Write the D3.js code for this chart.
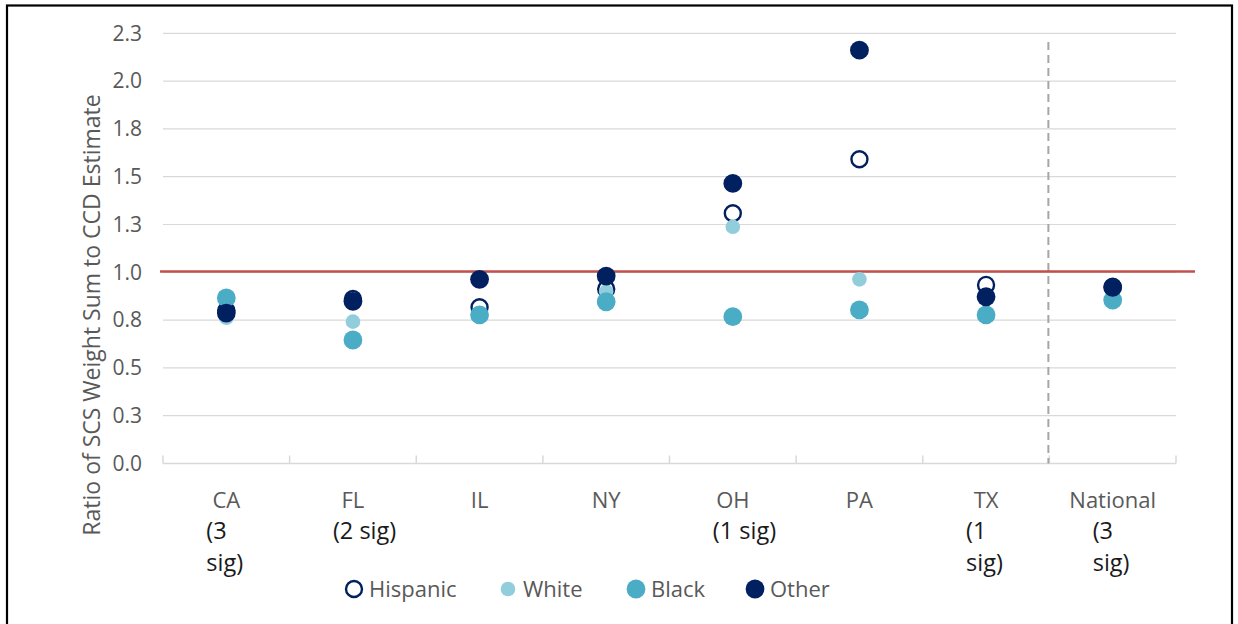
<!DOCTYPE html>
<html><head><meta charset="utf-8">
<script src="https://cdn.jsdelivr.net/npm/d3@7"></script>
<style>html,body{margin:0;padding:0;background:#fff;}svg{display:block;font-family:"Open Sans",sans-serif;}</style>
</head><body><svg id="c" width="1238" height="624"></svg>
<script>
const categories = ["CA","FL","IL","NY","OH","PA","TX","National"];
const hispanic = [0.80, 0.86, 0.817, 0.913, 1.309, 1.591, 0.934, 0.925];
const white    = [0.762, 0.742, 0.78, 0.899, 1.238, 0.963, 0.88, 0.91];
const black    = [0.866, 0.646, 0.777, 0.846, 0.768, 0.803, 0.777, 0.855];
const other    = [0.787, 0.848, 0.963, 0.98, 1.465, 2.162, 0.872, 0.921];
const yTicks = [0, 0.25, 0.5, 0.75, 1.0, 1.25, 1.5, 1.75, 2.0, 2.25];
const yTickLabels = ["0.0","0.3","0.5","0.8","1.0","1.3","1.5","1.8","2.0","2.3"];
const sigNotes = [
  {cat:"CA", lines:["(3","sig)"]},
  {cat:"FL", lines:["(2 sig)"]},
  {cat:"OH", lines:["(1 sig)"]},
  {cat:"TX", lines:["(1","sig)"]},
  {cat:"National", lines:["(3","sig)"]}
];
const referenceValue = 1.0;
const seriesNames = ["Hispanic","White","Black","Other"];

(function(){
const svg = d3.select("#c");
const pLeft = 163, pRight = 1176, pTop = 33.3, pBottom = 463.5;

const x = d3.scaleBand().domain(categories).range([pLeft, pRight]).padding(0);
const y = d3.scaleLinear().domain([0, 2.25]).range([pBottom, pTop]);
const cx = c => x(c) + x.bandwidth()/2;

// frame
svg.append("rect").attr("x",7).attr("y",5.5).attr("width",1225).attr("height",640)
  .attr("fill","none").attr("stroke","#000").attr("stroke-width",2.2);

// gridlines
svg.append("g").selectAll("line").data(yTicks.slice(1)).join("line")
  .attr("x1",pLeft).attr("x2",pRight).attr("y1",d=>y(d)).attr("y2",d=>y(d))
  .attr("stroke","#D9D9D9").attr("stroke-width",1.2);

// y axis labels
const yAxis = d3.axisLeft(y).tickValues(yTicks).tickFormat((d,i)=>yTickLabels[i]).tickSize(0).tickPadding(21);
const gy = svg.append("g").attr("transform",`translate(${pLeft},0)`).call(yAxis);
gy.select(".domain").remove();
gy.selectAll("text").attr("font-size",21).attr("fill","#595959").attr("font-family","Open Sans");

// x axis
const gx = svg.append("g").attr("transform",`translate(0,${pBottom})`);
gx.append("line").attr("x1",pLeft).attr("x2",pRight).attr("stroke","#D9D9D9").attr("stroke-width",1.5);
const bounds = categories.map(c=>x(c)).concat([pRight]);
gx.selectAll("line.tk").data(bounds).join("line").attr("class","tk")
  .attr("x1",d=>d).attr("x2",d=>d).attr("y1",-8).attr("y2",0)
  .attr("stroke","#D9D9D9").attr("stroke-width",1.5);
gx.selectAll("text.cat").data(categories).join("text").attr("class","cat")
  .attr("x",d=>cx(d)).attr("y",44).attr("text-anchor","middle")
  .attr("font-size",22).attr("fill","#595959").text(d=>d);

// sig notes
sigNotes.forEach(n=>{
  n.lines.forEach((t,i)=>{
    svg.append("text").attr("x",cx(n.cat)-20).attr("y",pBottom+75+i*32)
      .attr("font-size",23.5).attr("fill","#1a1a1a").text(t);
  });
});

// dashed separator between TX and National
svg.append("line").attr("x1",x("National")-1).attr("x2",x("National")-1)
  .attr("y1",42).attr("y2",pBottom)
  .attr("stroke","#A6A6A6").attr("stroke-width",2).attr("stroke-dasharray","8,5");

// reference line
svg.append("line").attr("x1",pLeft-3).attr("x2",1195).attr("y1",y(referenceValue)-0.8).attr("y2",y(referenceValue)-0.8)
  .attr("stroke","#C0504D").attr("stroke-width",2.4);

// points
const pts = svg.append("g");
pts.selectAll("circle.h").data(categories).join("circle").attr("class","h")
  .attr("cx",d=>cx(d)).attr("cy",(d,i)=>y(hispanic[i])).attr("r",8)
  .attr("fill","#fff").attr("stroke","#002060").attr("stroke-width",2.4);
pts.selectAll("circle.w").data(categories).join("circle").attr("class","w")
  .attr("cx",d=>cx(d)).attr("cy",(d,i)=>y(white[i])).attr("r",7.3)
  .attr("fill","#92CDDC");
pts.selectAll("circle.b").data(categories).join("circle").attr("class","b")
  .attr("cx",d=>cx(d)).attr("cy",(d,i)=>y(black[i])).attr("r",9.4)
  .attr("fill","#4BACC6");
pts.selectAll("circle.o").data(categories).join("circle").attr("class","o")
  .attr("cx",d=>cx(d)).attr("cy",(d,i)=>y(other[i])).attr("r",9.4)
  .attr("fill","#002060");

// y title
svg.append("text").attr("transform",`translate(100,315) rotate(-90)`)
  .attr("text-anchor","middle").attr("font-size",23).attr("fill","#595959")
  .text("Ratio of SCS Weight Sum to CCD Estimate");

// legend
const legendX = [354, 508, 636, 755];
const lg = svg.append("g");
seriesNames.forEach((s,i)=>{
  const g = lg.append("g").attr("transform",`translate(${legendX[i]},589)`);
  if(i===0) g.append("circle").attr("r",8).attr("fill","#fff").attr("stroke","#002060").attr("stroke-width",2.4);
  else if(i===1) g.append("circle").attr("r",7.3).attr("fill","#92CDDC");
  else if(i===2) g.append("circle").attr("r",9.4).attr("fill","#4BACC6");
  else g.append("circle").attr("r",9.4).attr("fill","#002060");
  g.append("text").attr("x",15).attr("y",8).attr("font-size",22).attr("fill","#595959").text(s);
});
})();
</script></body></html>
